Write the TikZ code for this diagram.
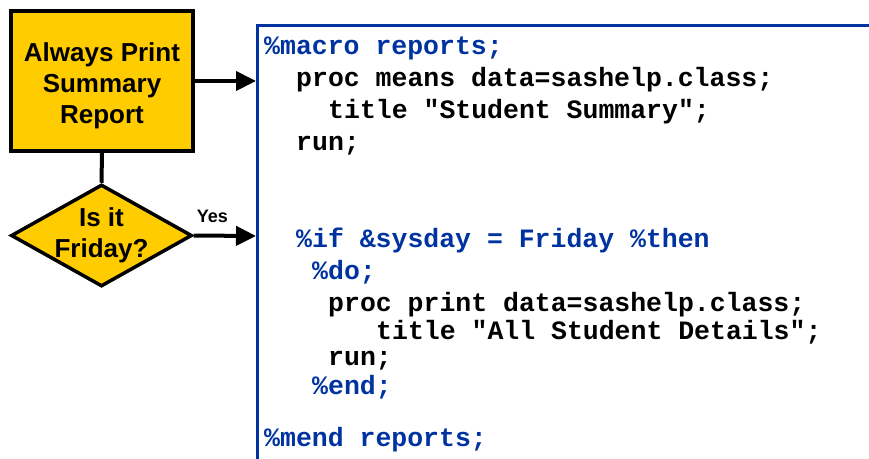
\documentclass[tikz,border=0pt]{standalone}
\usepackage{fontspec}
\setmainfont{Liberation Sans}
\setmonofont{Liberation Mono}
\usepackage{xcolor}
\usepackage{tikz}
\usetikzlibrary{arrows.meta,shapes.geometric,positioning}

\definecolor{sasyellow}{RGB}{255,204,0}
\definecolor{sasblue}{RGB}{0,51,160}

\tikzset{
  procbox/.style={draw=black,line width=3.5pt,fill=sasyellow,minimum width=182pt,
    minimum height=140pt,inner sep=0pt},
  decision/.style={diamond,draw=black,line width=3.5pt,fill=sasyellow,
    minimum width=181pt,minimum height=102pt,inner sep=0pt},
  boxtext/.style={align=center,inner sep=0pt,font=\fontsize{26}{31}\selectfont\bfseries},
  flow/.style={line width=4pt,-{Triangle[length=20pt,width=19pt]}},
  codetxt/.style={anchor=base west,inner sep=0pt,
    font=\fontsize{26.5}{30}\selectfont\ttfamily\bfseries},
  sascode/.style={codetxt,text=black},
  maccode/.style={codetxt,text=sasblue},
}

\begin{document}
\begin{tikzpicture}[x=1pt,y=-1pt]
        \useasboundingbox (0,0) rectangle (869,458);
        % flowchart
        \node[procbox] (summ) at (102,81) {};
        \node[boxtext] (summlbl) at (102,85.5) {Always Print\\Summary\\Report};
        \node[decision] (ask) at (101.5,235.5) {};
        \node[boxtext] (asklbl) at (101.5,235) {Is it\\Friday?};
        \draw[line width=4pt] (summ.south) -- (ask.north);
        % code window
        \draw[sasblue,line width=3pt] (257.5,470) -- (257.5,25) -- (880,25);
        \coordinate (in1) at (256,81);
        \coordinate (in2) at (256,236);
        \draw[flow] (summ.east) -- (in1);
        \draw[flow] (ask.east) -- (in2)
          node[pos=0.3,above=11pt,inner sep=0pt,font=\fontsize{18}{20}\selectfont\bfseries] (yes) {Yes};
        % macro source
        \node[maccode] (mac)    at (264,54)  {\%macro reports;};
        \node[sascode] (means)  at (296,86)  {proc means data=sashelp.class;};
        \node[sascode] (ttla)   at (328,118) {title "Student Summary";};
        \node[sascode] (runa)   at (296,150) {run;};
        \node[maccode] (ifday)  at (296,247) {\%if \&sysday = Friday \%then};
        \node[maccode] (doblk)  at (312,279) {\%do;};
        \node[sascode] (print)  at (328,311) {proc print data=sashelp.class;};
        \node[sascode] (ttlb)   at (376,339) {title "All Student Details";};
        \node[sascode] (runb)   at (328,365) {run;};
        \node[maccode] (endblk) at (312,394) {\%end;};
        \node[maccode] (mend)   at (264,446) {\%mend reports;};
      \end{tikzpicture}
\end{document}
